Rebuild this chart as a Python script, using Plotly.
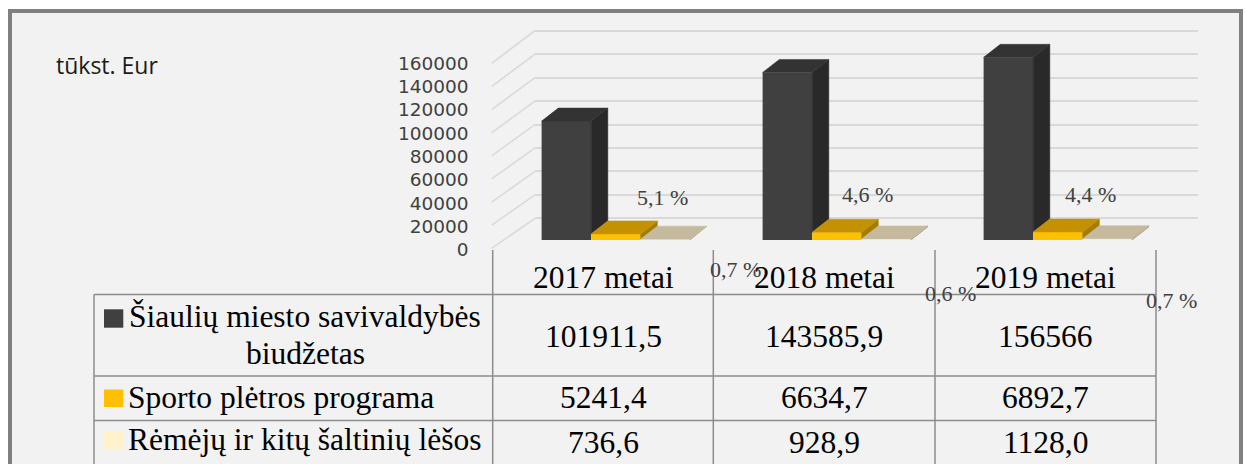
import plotly.graph_objects as go

# ---------------- data ----------------
categories = ["2017 metai", "2018 metai", "2019 metai"]
series_names = ["Šiaulių miesto savivaldybės biudžetas",
                "Sporto plėtros programa",
                "Rėmėjų ir kitų šaltinių lėšos"]
budget = [101911.5, 143585.9, 156566]
sport = [5241.4, 6634.7, 6892.7]
sponsors = [736.6, 928.9, 1128.0]
budget_text = ["101911,5", "143585,9", "156566"]
sport_text = ["5241,4", "6634,7", "6892,7"]
sponsors_text = ["736,6", "928,9", "1128,0"]
tick_values = [0, 20000, 40000, 60000, 80000, 100000, 120000, 140000, 160000]
tick_labels = [str(v) for v in tick_values]
unit_label = "tūkst. Eur"

# ---------------- geometry helpers ----------------
W, H = 1245, 464
def px(x):
    return x / W
def py(y):
    return 1 - y / H

SERIF = "Liberation Serif"
SANS = "Open Sans"

# bar plane scale: pixels per value unit
K = 0.0011669
Y0 = 240.0
X_LEFT, X_RIGHT = 503.6, 1166.6
UNIT_PX = (X_RIGHT - X_LEFT) / 3.0
BAR_W = 0.224
BASE_OFF = -0.328
DX = 16.7 / UNIT_PX
DY = 13.0 / K

colors_front = ["#404040", "#ffc000", "#fff2cc"]
colors_top = ["#333333", "#c49200", "#c5ba9d"]
colors_side = ["#292929", "#a67c00", "#a89f86"]

values = [budget, sport, sponsors]
xs = list(range(len(categories)))

fig = go.Figure()

# invisible trace to create back-wall subplot
fig.add_trace(go.Scatter(x=[None], y=[None], xaxis="x", yaxis="y",
                         showlegend=False, hoverinfo="skip"))

# bars (front faces)
for k, (vals, name) in enumerate(zip(values, series_names)):
    fig.add_trace(go.Bar(
        x=xs, y=vals, name=name, xaxis="x2", yaxis="y2",
        width=BAR_W, offset=BASE_OFF + k * BAR_W,
        marker=dict(color=colors_front[k], line=dict(width=0)),
        showlegend=False, hoverinfo="skip"))

# 3D top and side faces computed from the values
for k, vals in enumerate(values):
    tx, ty, sx, sy = [], [], [], []
    for i, v in enumerate(vals):
        left = i + BASE_OFF + k * BAR_W
        right = left + BAR_W
        tx += [left, right, right + DX, left + DX, left, None]
        ty += [v, v, v + DY, v + DY, v, None]
        below = values[k + 1][i] if k + 1 < len(values) else 0
        below = min(below, v)
        sx += [right, right + DX, right + DX, right, right, None]
        sy += [v, v + DY, below + DY, below, v, None]
    fig.add_trace(go.Scatter(x=sx, y=sy, xaxis="x2", yaxis="y2", mode="lines",
                             fill="toself", fillcolor=colors_side[k],
                             line=dict(width=0.5, color=colors_side[k]),
                             showlegend=False, hoverinfo="skip"))
    fig.add_trace(go.Scatter(x=tx, y=ty, xaxis="x2", yaxis="y2", mode="lines",
                             fill="toself", fillcolor=colors_top[k],
                             line=dict(width=0.5, color=colors_top[k]),
                             showlegend=False, hoverinfo="skip"))

shapes = []
annotations = []

# outer frame: fill plus left/top/right borders (bottom is cut off)
FRAME = "#808080"
shapes.append(dict(type="rect", xref="paper", yref="paper",
                   x0=px(10), x1=px(1241), y0=0, y1=py(11),
                   line=dict(width=0), fillcolor="#f2f2f2", layer="below"))
for (x0, y0, x1, y1) in [(10, 11, 1241, 11), (10, 9, 10, 464), (1241, 9, 1241, 464)]:
    shapes.append(dict(type="line", xref="paper", yref="paper",
                       x0=px(x0), x1=px(x1), y0=py(y0), y1=py(y1),
                       line=dict(color=FRAME, width=4), layer="below"))

# side wall diagonals (left wall)
GRID = "#d9d9d9"
for v in tick_values:
    yf = 248.3 - v * 185.0 / 160000
    yb = 218.3 - v * 187.6 / 160000
    shapes.append(dict(type="line", xref="paper", yref="paper",
                       x0=px(491.7), y0=py(yf), x1=px(535), y1=py(yb),
                       line=dict(color=GRID, width=1.5), layer="below"))

# percentage data labels
def pct(a, b):
    return f"{a / b * 100:.1f}".replace(".", ",") + " %"

sport_shift = [(47, 36), (31, 38), (33, 37)]
spons_shift = [(70, -30), (64, -55), (64, -62)]
for i in xs:
    annotations.append(dict(xref="x2", yref="y2", x=i + BASE_OFF + 1.5 * BAR_W, y=sport[i],
                            xshift=sport_shift[i][0], yshift=sport_shift[i][1],
                            text=pct(sport[i], budget[i]), showarrow=False,
                            font=dict(family=SERIF, size=22, color="#404040")))
    annotations.append(dict(xref="x2", yref="y2", x=i + BASE_OFF + 2.5 * BAR_W, y=sponsors[i],
                            xshift=spons_shift[i][0], yshift=spons_shift[i][1],
                            text=pct(sponsors[i], budget[i]), showarrow=False,
                            font=dict(family=SERIF, size=22, color="#404040")))

# unit label
annotations.append(dict(xref="paper", yref="paper", x=px(54), y=py(65),
                        xanchor="left", yanchor="middle", text=unit_label,
                        showarrow=False, font=dict(family=SANS, size=23, color="#1a1a1a")))

# ---------------- data table ----------------
TL = "#8c8c8c"
col_edges = [492.7, 713.3, 935.0, 1156.0]
row_lines = [294.5, 376.0, 420.5]
for y in row_lines:
    shapes.append(dict(type="line", xref="paper", yref="paper",
                       x0=px(94), x1=px(1156), y0=py(y), y1=py(y),
                       line=dict(color=TL, width=1.5)))
shapes.append(dict(type="line", xref="paper", yref="paper",
                   x0=px(94), x1=px(94), y0=py(294.5), y1=py(464),
                   line=dict(color=TL, width=1.5)))
for x in col_edges:
    shapes.append(dict(type="line", xref="paper", yref="paper",
                       x0=px(x), x1=px(x), y0=py(250), y1=py(464),
                       line=dict(color=TL, width=1.5)))

TFONT = dict(family=SERIF, size=31.5, color="#000000")
col_centers = [(col_edges[i] + col_edges[i + 1]) / 2 for i in range(3)]
for i, c in enumerate(categories):
    annotations.append(dict(xref="paper", yref="paper", x=px(col_centers[i]), y=py(277),
                            text=c, showarrow=False, xanchor="center", yanchor="middle",
                            font=TFONT))

row_centers = [336, 397, 442]
row_texts = [budget_text, sport_text, sponsors_text]
for r in range(3):
    for i in range(3):
        annotations.append(dict(xref="paper", yref="paper", x=px(col_centers[i]), y=py(row_centers[r]),
                                text=row_texts[r][i], showarrow=False, xanchor="center",
                                yanchor="middle", font=TFONT))

# row headers with legend keys
words = series_names[0].split(" ")
line1 = " ".join(words[:3])
line2 = words[3]
annotations.append(dict(xref="paper", yref="paper", x=px(305), y=py(316),
                        text=line1, showarrow=False, xanchor="center", yanchor="middle", font=TFONT))
annotations.append(dict(xref="paper", yref="paper", x=px(305), y=py(353),
                        text=line2, showarrow=False, xanchor="center", yanchor="middle", font=TFONT))
annotations.append(dict(xref="paper", yref="paper", x=px(126), y=py(397),
                        text=series_names[1], showarrow=False, xanchor="left", yanchor="middle", font=TFONT))
annotations.append(dict(xref="paper", yref="paper", x=px(126), y=py(439),
                        text=series_names[2], showarrow=False, xanchor="left", yanchor="middle", font=TFONT))
key_rows = [(309.3, 327.7), (389.5, 407), (431.7, 450)]
for k, (y0, y1) in enumerate(key_rows):
    shapes.append(dict(type="rect", xref="paper", yref="paper",
                       x0=px(104), x1=px(123.3), y0=py(y1), y1=py(y0),
                       fillcolor=colors_front[k], line=dict(width=0)))

# ---------------- axes ----------------
KB = 187.6 / 160000
fig.update_layout(
    width=W, height=H,
    autosize=False,
    margin=dict(l=0, r=0, t=0, b=0, pad=0),
    paper_bgcolor="white",
    plot_bgcolor="rgba(0,0,0,0)",
    barmode="overlay",
    showlegend=False,
    shapes=shapes,
    annotations=annotations,
    xaxis=dict(domain=[px(535), px(1198.3)], range=[0, 1], visible=False, fixedrange=True,
               automargin=False),
    yaxis=dict(domain=[py(218.3 + 2000 * KB), py(30.7 - 2000 * KB)], range=[-2000, 162000],
               tickvals=tick_values, showticklabels=False, showgrid=True,
               gridcolor=GRID, gridwidth=1.5, zeroline=False, showline=False,
               ticks="", fixedrange=True, automargin=False),
    xaxis2=dict(domain=[px(X_LEFT), px(X_RIGHT)], range=[-0.5, 2.5], anchor="y2",
                showgrid=False, zeroline=False, showline=False, showticklabels=False,
                ticks="", fixedrange=True, automargin=False),
    yaxis2=dict(domain=[py(Y0), py(Y0 - 180000 * K)], range=[0, 180000], anchor="x2",
                tickvals=tick_values, ticktext=tick_labels, showgrid=False,
                zeroline=False, showline=False, ticks="",
                tickfont=dict(family="DejaVu Sans", size=18.5, color="#404040"),
                ticklabelshift=10, ticklabelstandoff=34, fixedrange=True,
                automargin=False),
)

fig.write_html("out.html", config={"displayModeBar": False},
               post_script="document.body.style.margin='0px';document.body.style.overflow='hidden';")
